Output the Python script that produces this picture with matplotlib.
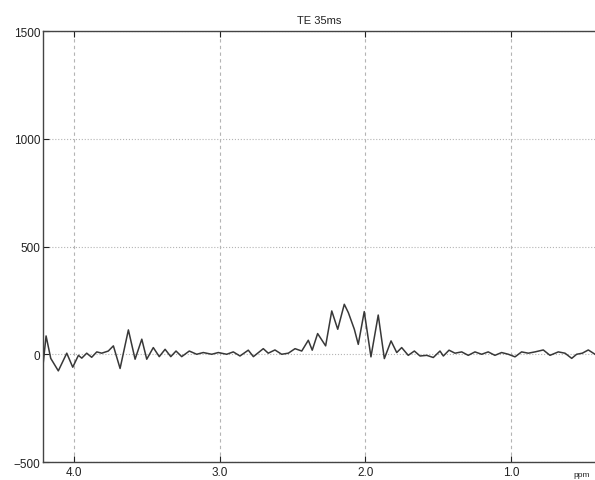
import matplotlib
matplotlib.use("Agg")
import matplotlib.pyplot as plt

plt.rcParams['font.family'] = ['Liberation Sans', 'DejaVu Sans']

# chemical shift (ppm) and signal intensity of the spectrum
ppm = [4.213, 4.192, 4.160, 4.108, 4.050, 4.009, 3.970, 3.947, 3.913, 3.879,
       3.844, 3.810, 3.765, 3.730, 3.684, 3.627, 3.581, 3.535, 3.501, 3.456,
       3.415, 3.375, 3.336, 3.300, 3.261, 3.209, 3.158, 3.113, 3.055, 3.010,
       2.952, 2.907, 2.861, 2.804, 2.769, 2.701, 2.667, 2.621, 2.575, 2.529,
       2.483, 2.437, 2.392, 2.365, 2.328, 2.273, 2.231, 2.190, 2.145, 2.117,
       2.076, 2.049, 2.008, 1.962, 1.912, 1.870, 1.824, 1.785, 1.751, 1.706,
       1.664, 1.625, 1.579, 1.534, 1.488, 1.465, 1.426, 1.385, 1.339, 1.294,
       1.248, 1.202, 1.157, 1.111, 1.065, 1.019, 0.973, 0.928, 0.882, 0.836,
       0.779, 0.733, 0.676, 0.630, 0.584, 0.550, 0.511, 0.470, 0.424]
signal = [-50, 85, -19, -77, 5, -60, -5, -18, 5, -14,
          11, 5, 15, 39, -66, 113, -23, 70, -23, 31,
          -11, 23, -11, 15, -11, 15, 0, 8, 0, 8,
          0, 11, -8, 19, -11, 26, 5, 20, 0, 5,
          26, 15, 65, 19, 96, 39, 201, 116, 232, 193,
          116, 46, 198, -12, 182, -20, 62, 8, 31, -5,
          15, -8, -5, -15, 15, -8, 19, 5, 11, -5,
          11, 0, 11, -5, 8, 0, -12, 11, 5, 11,
          20, -5, 11, 5, -19, 0, 5, 20, 0]

x_ticks = [4.0, 3.0, 2.0, 1.0]
y_ticks = [-500, 0, 500, 1000, 1500]

fig = plt.figure(figsize=(5.95, 4.81), dpi=100)
ax = fig.add_axes([0.0723, 0.0374, 0.9277, 0.896])

ax.plot(ppm, signal, color='#383838', linewidth=1.1)

ax.set_xlim(4.213, 0.424)
ax.set_ylim(-500, 1500)
ax.set_xticks(x_ticks)
ax.set_xticklabels(['4.0', '3.0', '2.0', '1.0'])
ax.set_yticks(y_ticks)

ax.grid(True, axis='y', color='#b4b4b4', linestyle=':', linewidth=0.8)
ax.grid(True, axis='x', color='#b4b4b4', linestyle=(0, (3, 3)), linewidth=0.8)

ax.spines['right'].set_visible(False)
for side in ['left', 'top', 'bottom']:
    ax.spines[side].set_color('#444444')
    ax.spines[side].set_linewidth(1.0)

ax.tick_params(axis='both', direction='in', length=4, labelsize=8.5,
               colors='#222222', top=True)
ax.tick_params(axis='x', pad=3)
ax.tick_params(axis='y', pad=2)

ax.set_title('TE 35ms', fontsize=8, color='#222222', pad=6)
ax.text(0.99, -0.022, 'ppm', transform=ax.transAxes, fontsize=6,
        color='#222222', ha='right', va='top')

fig.savefig('out.png', dpi=100)
